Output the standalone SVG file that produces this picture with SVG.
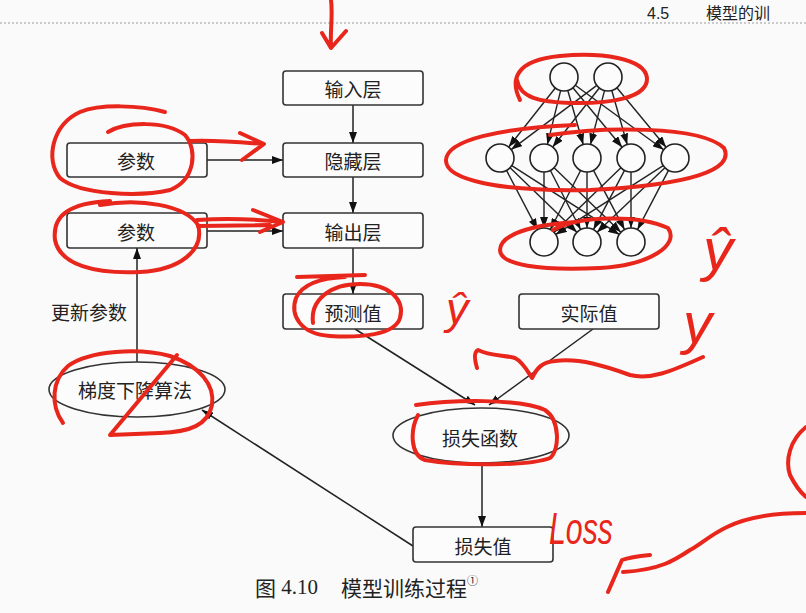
<svg xmlns="http://www.w3.org/2000/svg" width="806" height="613" viewBox="0 0 806 613">
<defs>
<style>
.bg{fill:#fafafa}
.box{fill:#fcfcfc;stroke:#333;stroke-width:1.6}
.ell{fill:#fcfcfc;stroke:#333;stroke-width:1.6}
.t{font-family:"Noto Sans CJK SC","Noto Sans CJK JP",sans-serif;font-size:19px;fill:#222;text-anchor:middle;dominant-baseline:central}
.ln{stroke:#222;stroke-width:1.5;fill:none}
.nl{stroke:#222;stroke-width:1.4;fill:none}
.nd{fill:#fcfcfc;stroke:#222;stroke-width:1.6}
.red{stroke:#e8261c;stroke-width:4;fill:none;stroke-linecap:round;stroke-linejoin:round}
.hw{font-family:"Liberation Sans",sans-serif;font-style:italic;fill:#e8261c}
</style>
<marker id="ah" markerUnits="userSpaceOnUse" markerWidth="11" markerHeight="8" refX="11" refY="4" orient="auto">
<path d="M0,0 L11,4 L0,8 z" fill="#111"/>
</marker>
<marker id="ahs" markerUnits="userSpaceOnUse" markerWidth="11" markerHeight="8" refX="11" refY="4" orient="auto">
<path d="M0,0 L11,4 L0,8 z" fill="#111"/>
</marker>
</defs>
<rect class="bg" x="0" y="0" width="806" height="613"/>

<g id="header">
<line x1="0" y1="23" x2="806" y2="23" stroke="#999" stroke-width="1.2" stroke-dasharray="2,2"/>
<text x="647" y="19" font-family="'Liberation Sans','Noto Sans CJK SC',sans-serif" font-size="16" fill="#222">4.5<tspan x="706" font-family="'Noto Sans CJK SC',sans-serif">模型的训</tspan></text>
</g>

<g id="connectors">
<line class="ln" x1="353" y1="105" x2="353" y2="143" marker-end="url(#ah)"/>
<line class="ln" x1="353" y1="177" x2="353" y2="213" marker-end="url(#ah)"/>
<line class="ln" x1="353" y1="248" x2="353" y2="294" marker-end="url(#ah)"/>
<line class="ln" x1="207" y1="160" x2="283" y2="160" marker-end="url(#ah)"/>
<line class="ln" x1="207" y1="231" x2="283" y2="231" marker-end="url(#ah)"/>
<line class="ln" x1="137" y1="362" x2="137" y2="248" marker-end="url(#ah)"/>
<line class="ln" x1="355" y1="329" x2="475" y2="405" marker-end="url(#ah)"/>
<line class="ln" x1="593" y1="329" x2="489" y2="405" marker-end="url(#ah)"/>
<line class="ln" x1="482" y1="463" x2="482" y2="527" marker-end="url(#ah)"/>
<line class="ln" x1="413" y1="546" x2="202" y2="410" marker-end="url(#ah)"/>
</g>

<g id="input-layer"><rect class="box" x="283" y="71" width="140" height="34" rx="3"/><text class="t" x="353" y="88">输入层</text></g>
<g id="hidden-layer"><rect class="box" x="283" y="143" width="140" height="34" rx="3"/><text class="t" x="353" y="160">隐藏层</text></g>
<g id="output-layer"><rect class="box" x="283" y="213" width="140" height="35" rx="3"/><text class="t" x="353" y="231">输出层</text></g>
<g id="params-1"><rect class="box" x="67" y="143" width="140" height="34" rx="3"/><text class="t" x="136" y="160">参数</text></g>
<g id="params-2"><rect class="box" x="67" y="213" width="140" height="35" rx="3"/><text class="t" x="136" y="231">参数</text></g>
<g id="update-label"><text class="t" x="89" y="311">更新参数</text></g>
<g id="prediction"><rect class="box" x="283" y="294" width="140" height="35" rx="3"/><text class="t" x="353" y="312">预测值</text></g>
<g id="actual"><rect class="box" x="519" y="294" width="140" height="35" rx="3"/><text class="t" x="589" y="312">实际值</text></g>
<g id="gradient-descent"><ellipse class="ell" cx="137" cy="389.5" rx="88" ry="27.5"/><text class="t" x="135" y="389">梯度下降算法</text></g>
<g id="loss-function"><ellipse class="ell" cx="481" cy="435.5" rx="88" ry="27.5"/><text class="t" x="480" y="437">损失函数</text></g>
<g id="loss-value"><rect class="box" x="413" y="527" width="140" height="35" rx="3"/><text class="t" x="483" y="545">损失值</text></g>

<g id="network">
<g id="network-edges">
<line class="nl" x1="555.3" y1="88" x2="508.7" y2="147" marker-end="url(#ahs)"/>
<line class="nl" x1="560.6" y1="90.6" x2="547.4" y2="144.4" marker-end="url(#ahs)"/>
<line class="nl" x1="567.8" y1="90.5" x2="583.2" y2="144.5" marker-end="url(#ahs)"/>
<line class="nl" x1="572.9" y1="87.8" x2="622.1" y2="147.2" marker-end="url(#ahs)"/>
<line class="nl" x1="575.3" y1="85.3" x2="663.7" y2="149.7" marker-end="url(#ahs)"/>
<line class="nl" x1="596.8" y1="85.4" x2="511.2" y2="149.6" marker-end="url(#ahs)"/>
<line class="nl" x1="599.3" y1="88" x2="552.7" y2="147" marker-end="url(#ahs)"/>
<line class="nl" x1="604.5" y1="90.6" x2="590.5" y2="144.4" marker-end="url(#ahs)"/>
<line class="nl" x1="611.8" y1="90.5" x2="627.2" y2="144.5" marker-end="url(#ahs)"/>
<line class="nl" x1="616.9" y1="87.8" x2="666.1" y2="147.2" marker-end="url(#ahs)"/>
<line class="nl" x1="506.5" y1="170.4" x2="537.5" y2="229.6" marker-end="url(#ahs)"/>
<line class="nl" x1="510.1" y1="167.7" x2="576.9" y2="232.3" marker-end="url(#ahs)"/>
<line class="nl" x1="511.8" y1="165.6" x2="619.2" y2="234.4" marker-end="url(#ahs)"/>
<line class="nl" x1="544" y1="172" x2="544" y2="228" marker-end="url(#ahs)"/>
<line class="nl" x1="550.4" y1="170.5" x2="580.6" y2="229.5" marker-end="url(#ahs)"/>
<line class="nl" x1="554.1" y1="167.7" x2="620.9" y2="232.3" marker-end="url(#ahs)"/>
<line class="nl" x1="580.6" y1="170.5" x2="550.4" y2="229.5" marker-end="url(#ahs)"/>
<line class="nl" x1="587" y1="172" x2="587" y2="228" marker-end="url(#ahs)"/>
<line class="nl" x1="593.5" y1="170.4" x2="624.5" y2="229.6" marker-end="url(#ahs)"/>
<line class="nl" x1="620.9" y1="167.7" x2="554.1" y2="232.3" marker-end="url(#ahs)"/>
<line class="nl" x1="624.5" y1="170.4" x2="593.5" y2="229.6" marker-end="url(#ahs)"/>
<line class="nl" x1="631" y1="172" x2="631" y2="228" marker-end="url(#ahs)"/>
<line class="nl" x1="663.2" y1="165.6" x2="555.8" y2="234.4" marker-end="url(#ahs)"/>
<line class="nl" x1="664.9" y1="167.7" x2="597.1" y2="232.3" marker-end="url(#ahs)"/>
<line class="nl" x1="668.5" y1="170.4" x2="637.5" y2="229.6" marker-end="url(#ahs)"/>
</g>
<g id="network-nodes">
<circle class="nd" cx="564" cy="77" r="14"/><circle class="nd" cx="608" cy="77" r="14"/>
<circle class="nd" cx="500" cy="158" r="14"/><circle class="nd" cx="544" cy="158" r="14"/><circle class="nd" cx="587" cy="158" r="14"/><circle class="nd" cx="631" cy="158" r="14"/><circle class="nd" cx="675" cy="158" r="14"/>
<circle class="nd" cx="544" cy="242" r="14"/><circle class="nd" cx="587" cy="242" r="14"/><circle class="nd" cx="631" cy="242" r="14"/>
</g>
</g>

<g id="caption">
<text x="255" y="587" font-size="21" fill="#222" dominant-baseline="central" font-family="'Noto Sans CJK SC',sans-serif">图<tspan font-family="'Liberation Serif',serif"> 4.10</tspan><tspan x="341">模型训练过程</tspan><tspan font-size="11" dy="-7">①</tspan></text>
</g>

<g id="annotations">
<path class="red" d="M331,0 C333,15 330,30 331,47 M322,33 L331,48 L346,31"/>
<path class="red" d="M108,132 C125,122 165,120 185,135 C198,150 195,180 170,190 C140,197 80,195 60,178 C45,160 52,125 80,112 C100,104 140,105 165,112"/>
<path class="red" d="M190,141 C215,140 240,142 263,144 M240,133 L264,144 L242,160"/>
<path class="red" d="M100,205 C140,198 185,205 198,225 C205,250 180,270 140,272 C95,274 60,265 55,240 C52,215 70,203 110,201"/>
<path class="red" d="M197,220 C225,218 255,219 283,222 M198,226 L270,225 M253,210 L283,222 L260,232"/>
<path class="red" d="M520,100 C510,80 515,60 560,56 C600,52 645,58 647,78 C648,98 610,104 570,103 C540,102 520,98 517,80"/>
<path class="red" d="M550,135 C600,127 700,125 724,148 C735,170 690,185 590,190 C500,192 445,180 446,160 C447,140 500,128 575,125"/>
<path class="red" d="M553,230 C580,215 640,215 668,228 C680,245 650,265 600,268 C540,271 500,265 500,250 C500,235 530,225 575,222"/>
<path class="red" d="M313,323 C310,300 330,284 360,284 C390,284 405,300 400,318 C395,335 360,338 330,336 C300,334 290,315 296,298 C302,285 320,278 345,277 M297,277 L365,275"/>
<path class="red" d="M477,368 C474,358 474,352 478,350 C490,356 505,355 515,358 C523,362 528,372 532,378 C537,368 542,362 555,361 C580,358 605,366 630,375 C650,380 670,372 703,357"/>
<path class="red" d="M63,423 C50,405 52,380 68,366 C90,350 140,348 170,356 C200,366 215,385 212,405 C208,425 190,432 160,433 L110,435 L177,355"/>
<path class="red" d="M416,405 C450,400 520,398 545,410 C560,420 560,450 550,458 C530,466 460,466 425,460 C410,455 410,430 418,415"/>
<path class="red" d="M806,427 C790,440 785,460 790,475 C795,485 800,492 806,497"/>
<path class="red" d="M806,513 C770,513 745,518 727,527 C710,535 700,545 690,550 C675,560 660,570 623,572 M650,555 C640,556 630,557 622,560 L608,592"/>
<text class="hw" x="446" y="324" font-size="45">ŷ</text>
<text class="hw" x="703" y="270" font-size="60">ŷ</text>
<text class="hw" x="683" y="343" font-size="58">y</text>
<text class="hw" x="549" y="544" font-size="44" textLength="64" lengthAdjust="spacingAndGlyphs">Loss</text>
</g>
</svg>
